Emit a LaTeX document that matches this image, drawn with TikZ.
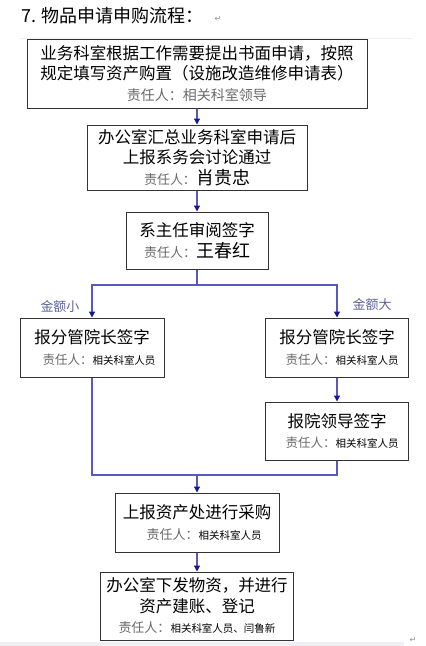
\documentclass[tikz,border=0pt]{standalone}
\usepackage{fontspec}
\newfontfamily\cjk{Noto Sans CJK SC}
\newfontfamily\retfont{DejaVu Sans}
\usetikzlibrary{arrows.meta}
\definecolor{flowline}{RGB}{88,88,190}
\definecolor{flowtip}{RGB}{20,20,160}
\definecolor{whogray}{RGB}{105,105,105}
\definecolor{branchtxt}{RGB}{90,100,150}
\newcommand{\whotag}[1]{{\color{whogray}\fontsize{#1}{#1}\selectfont 责任人：}}
\newcommand{\whoname}[1]{{\fontsize{10.5}{12}\selectfont #1}}

\begin{document}
\begin{tikzpicture}[x=1pt, y=-1pt,
    box/.style={draw=black!80, line width=1pt, align=center, inner sep=2pt,
                font=\cjk\fontsize{16.5}{20.5}\selectfont},
    flowln/.style={draw=flowline, line width=1.2pt},
    flow/.style={flowln, -{Triangle[length=6pt, width=6pt, color=flowtip]}}]
    \useasboundingbox (0,0) rectangle (426,646);
    \draw[black!6, line width=0.6pt] (20,38) -- (412,38);
    \fill[blue!30!black!6] (0,642) rectangle (404,646);

    \node[anchor=west, font=\cjk\fontsize{18}{20}\selectfont] (title) at (18,16) {7. 物品申请申购流程：};
    \node[font=\retfont\fontsize{8}{8}\selectfont, text=black!45] (ret1) at (218,19) {↵};
    \node[font=\retfont\fontsize{8}{8}\selectfont, text=black!45] (ret2) at (413,640) {↵};

    \node[box, minimum width=340pt, minimum height=69pt] (apply) at (197,73.5)
        {业务科室根据工作需要提出书面申请，按照\\规定填写资产购置（设施改造维修申请表）\\
         {\color{whogray}\fontsize{14}{17}\selectfont 责任人：相关科室领导}};
    \node[box, minimum width=220pt, minimum height=65pt] (meeting) at (197,157.5)
        {办公室汇总业务科室申请后\\上报系务会讨论通过\\
         \whotag{13}{\fontsize{18}{18}\selectfont 肖贵忠}};
    \node[box, minimum width=142pt, minimum height=57pt] (head) at (197,240.5)
        {系主任审阅签字\\\whotag{13}{\fontsize{18}{18}\selectfont 王春红}};

    \coordinate (split) at (197,285);
    \node[box, minimum width=144pt, minimum height=59pt] (smalldean) at (92,347.5)
        {报分管院长签字\\\hspace*{14pt}\whotag{12.5}\whoname{相关科室人员}};
    \node[box, minimum width=143pt, minimum height=59pt] (bigdean) at (337,347.5)
        {报分管院长签字\\\hspace*{10pt}\whotag{12.5}\whoname{相关科室人员}};
    \node[box, minimum width=143pt, minimum height=58pt] (leader) at (337,431)
        {报院领导签字\\\hspace*{10pt}\whotag{12.5}\whoname{相关科室人员}};
    \node[font=\cjk\fontsize{13}{13}\selectfont, text=branchtxt] (lowsum) at (60,307) {金额小};
    \node[font=\cjk\fontsize{13}{13}\selectfont, text=branchtxt] (highsum) at (372,305) {金额大};

    \coordinate (merge) at (197,475);
    \node[box, minimum width=164pt, minimum height=59pt] (buy) at (197,522.5)
        {上报资产处进行采购\\\hspace*{14pt}\whotag{13}\whoname{相关科室人员}};
    \node[box, minimum width=193pt, minimum height=68pt] (issue) at (197,606)
        {办公室下发物资，并进行\\资产建账、登记\\
         \whotag{13}\whoname{相关科室人员、闫鲁新}};

    \draw[flow] (apply) -- (meeting);
    \draw[flow] (meeting) -- (head);
    \draw[flowln] (head) -- (split);
    \draw[flow] (split) -| (smalldean);
    \draw[flow] (split) -| (bigdean);
    \draw[flow] (bigdean) -- (leader);
    \draw[flowln] (smalldean) |- (merge);
    \draw[flowln] (leader) |- (merge);
    \draw[flow] (merge) -- (buy);
    \draw[flow] (buy) -- (issue);
\end{tikzpicture}
\end{document}
